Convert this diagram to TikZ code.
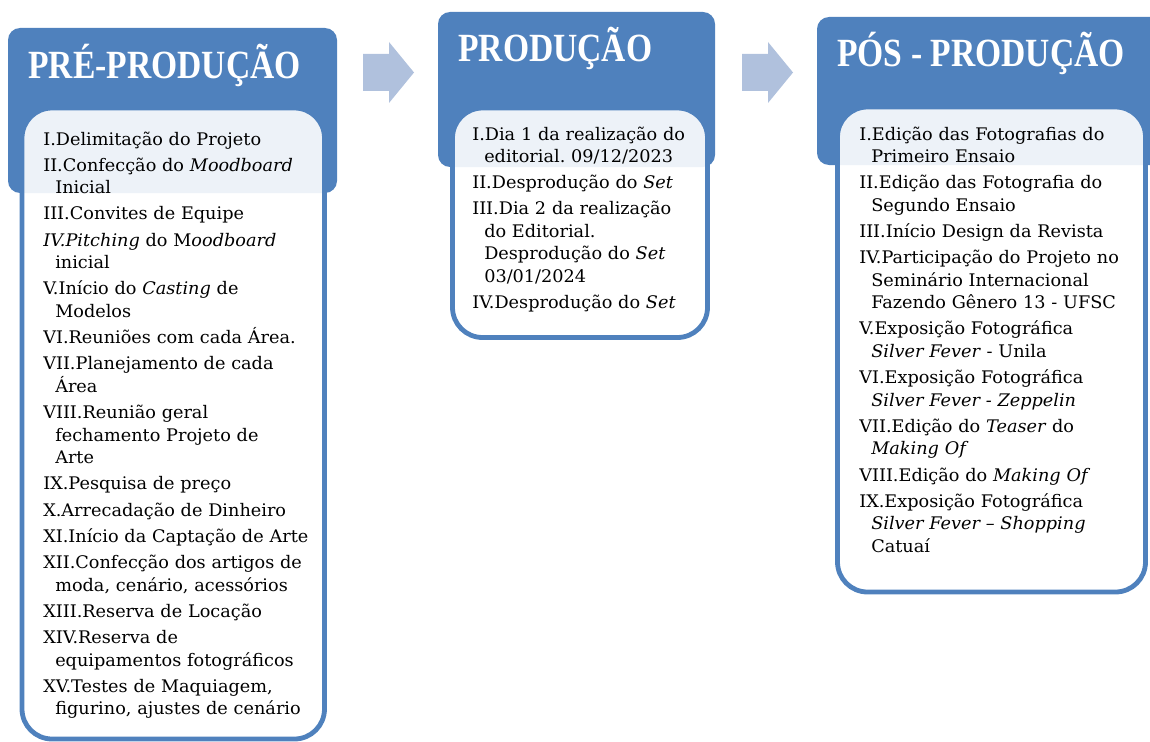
\documentclass[tikz,border=0pt]{standalone}
\usepackage{fontspec}
\setmainfont{DejaVu Serif}[FakeStretch=1.02]
\newfontfamily\fontetitulo{Liberation Serif}[FakeStretch=0.84]
\usetikzlibrary{positioning, fit}

\definecolor{azul}{HTML}{4F81BD}
\definecolor{azulclaro}{HTML}{B0C1DD}
\newcommand{\primfase}{\hangindent=9pt\hangafter=1\relax}
\newcommand{\fase}{\par\primfase}

\begin{document}
\begin{tikzpicture}
        [x=0.75pt, y=-0.75pt,
        cabecalho/.style={rectangle, fill=azul, rounded corners=9pt, inner sep=0pt},
        caixa/.style={rectangle, draw=azul, line width=3.6pt, fill=white, fill opacity=0.9,
            rounded corners=22.5pt, inner sep=0pt},
        titulo/.style={text=white, font=\fontetitulo\bfseries\fontsize{30}{34}\selectfont,
            inner sep=0pt, anchor=base west},
        lista/.style={text width=235pt, align=left, inner sep=0pt, anchor=base west,
            font=\fontsize{13}{16.875}\selectfont,
            execute at begin node={\frenchspacing\setlength{\parskip}{2.8pt}\setlength{\parindent}{0pt}}},
        seta/.pic={\fill[azulclaro] (0,-18.5) -- (26,-18.5) -- (26,-30.5) -- (51,0)
            -- (26,30.5) -- (26,18.5) -- (0,18.5) -- cycle;}]

        \useasboundingbox (0,0) rectangle (1150,742);

        % cabecalhos
        \node[cabecalho, fit={(8,28) (337,193)}] (hdrpre) {};
        \node[cabecalho, fit={(438,12) (715,167)}] (hdrprod) {};
        \node[cabecalho, fit={(817,17) (1165,165)}] (hdrpos) {};

        % caixas das etapas
        \node[caixa, fit={(22,108) (324.5,739)}] (boxpre) {};
        \node[caixa, fit={(452.5,108) (707.5,337.5)}] (boxprod) {};
        \node[caixa, fit={(837.5,107) (1145.5,592)}] (boxpos) {};

        \node[titulo] (ttlpre) at (28,79) {PRÉ-PRODUÇÃO};
        \node[titulo] (ttlprod) at (458,62) {PRODUÇÃO};
        \node[titulo] (ttlpos) at (837,67) {PÓS - PRODUÇÃO};

        \pic (setaa) at (363,72.5) {seta};
        \pic (setab) at (742,72.5) {seta};

        \node[lista] (lstpre) at (43,145) {%
            \primfase I.Delimitação do Projeto
            \fase II.Confecção do \textit{Moodboard}\newline Inicial
            \fase III.Convites de Equipe
            \fase \textit{IV.Pitching} do M\textit{oodboard}\newline inicial
            \fase V.Início do \textit{Casting} de\newline Modelos
            \fase VI.Reuniões com cada Área.
            \fase VII.Planejamento de cada\newline Área
            \fase VIII.Reunião geral\newline fechamento Projeto de\newline Arte
            \fase IX.Pesquisa de preço
            \fase X.Arrecadação de Dinheiro
            \fase XI.Início da Captação de Arte
            \fase XII.Confecção dos artigos de\newline moda, cenário, acessórios
            \fase XIII.Reserva de Locação
            \fase XIV.Reserva de\newline equipamentos fotográficos
            \fase XV.Testes de Maquiagem,\newline figurino, ajustes de cenário\par};

        \node[lista] (lstprod) at (472,140) {%
            \primfase I.Dia 1 da realização do\newline editorial. 09/12/2023
            \fase II.Desprodução do \textit{Set}
            \fase III.Dia 2 da realização\newline do Editorial.\newline Desprodução do \textit{Set}\newline 03/01/2024
            \fase IV.Desprodução do \textit{Set}\par};

        \node[lista] (lstpos) at (859,140) {%
            \primfase I.Edição das Fotografias do\newline Primeiro Ensaio
            \fase II.Edição das Fotografia do\newline Segundo Ensaio
            \fase III.Início Design da Revista
            \fase IV.Participação do Projeto no\newline Seminário Internacional\newline Fazendo Gênero 13 - UFSC
            \fase V.Exposição Fotográfica\newline \textit{Silver Fever} - Unila
            \fase VI.Exposição Fotográfica\newline \textit{Silver Fever - Zeppelin}
            \fase VII.Edição do \textit{Teaser} do\newline \textit{Making Of}
            \fase VIII.Edição do \textit{Making Of}
            \fase IX.Exposição Fotográfica\newline \textit{Silver Fever – Shopping}\newline Catuaí\par};
\end{tikzpicture}
\end{document}
